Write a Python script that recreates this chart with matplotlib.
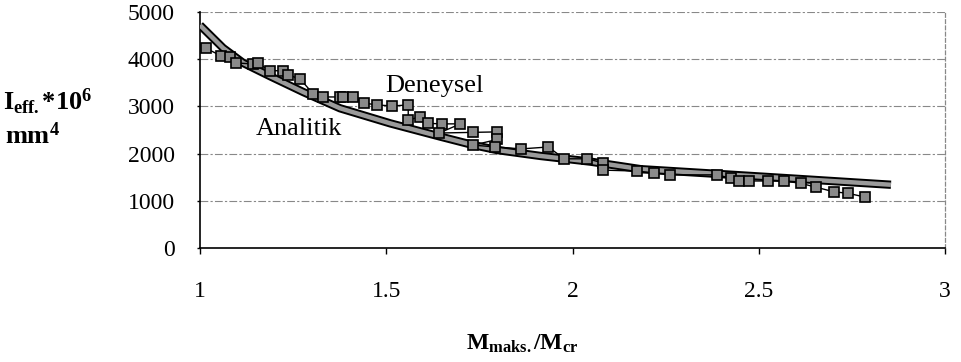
import matplotlib
matplotlib.use("Agg")
import matplotlib.pyplot as plt

plt.rcParams['font.family'] = ['Liberation Serif', 'DejaVu Serif']
plt.rcParams['mathtext.fontset'] = 'custom'
plt.rcParams['mathtext.rm'] = 'Liberation Serif'
plt.rcParams['mathtext.it'] = 'Liberation Serif:italic'
plt.rcParams['mathtext.bf'] = 'Liberation Serif:bold'

# Analitik (analytical) curve
analitik_x = [1.00, 1.062, 1.116, 1.188, 1.277, 1.376, 1.511, 1.645, 1.734, 1.798,
              1.914, 2.048, 2.183, 2.390, 2.594, 2.855]
analitik_y = [4720, 4237, 3920, 3640, 3305, 2960, 2640, 2360, 2180, 2075,
              1950, 1830, 1670, 1570, 1470, 1340]

deneysel_x = [1.016, 1.056, 1.081, 1.097, 1.142, 1.156, 1.188, 1.223, 1.237, 1.269,
              1.304, 1.331, 1.376, 1.384, 1.411, 1.441, 1.476, 1.516, 1.559, 1.559,
              1.591, 1.613, 1.651, 1.699, 1.642, 1.734, 1.798, 1.798, 1.734, 1.793,
              1.863, 1.935, 1.978, 2.040, 2.083, 2.083, 2.172, 2.218, 2.261, 2.387,
              2.425, 2.446, 2.473, 2.524, 2.567, 2.613, 2.653, 2.702, 2.739, 2.785]
deneysel_y = [4230, 4075, 4053, 3920, 3900, 3910, 3756, 3756, 3665, 3580,
              3263, 3200, 3200, 3205, 3195, 3070, 3030, 3010, 3030, 2710,
              2780, 2640, 2630, 2630, 2436, 2450, 2460, 2300, 2180, 2140,
              2100, 2140, 1890, 1890, 1800, 1650, 1630, 1590, 1550, 1550,
              1480, 1420, 1420, 1420, 1420, 1370, 1290, 1190, 1160, 1080]

x_ticks = [1, 1.5, 2, 2.5, 3]
x_tick_labels = ['1', '1.5', '2', '2.5', '3']
y_ticks = [0, 1000, 2000, 3000, 4000, 5000]

W, H = 962, 362
fig = plt.figure(figsize=(W / 100, H / 100), dpi=100)
ax = fig.add_axes([200 / W, 1 - 248 / H, (945 - 200) / W, (248 - 12) / H])

ax.set_xlim(1, 3)
ax.set_ylim(0, 5000)

# gridlines
for yv in y_ticks[1:]:
    ax.axhline(yv, color='#888888', lw=0.8, ls=(0, (7, 2, 2, 2)), zorder=1)

# analytical curve: thick grey band with black outline
ax.plot(analitik_x, analitik_y, color='black', lw=6.0, solid_capstyle='butt', zorder=3)
ax.plot(analitik_x, analitik_y, color='#9a9a9a', lw=3.2, solid_capstyle='butt', zorder=4)

# experimental points
ax.plot(deneysel_x, deneysel_y, color='black', lw=1.0, marker='s', markersize=6.5,
        markerfacecolor='#8a8a8a', markeredgecolor='black', markeredgewidth=1.2, zorder=5)

ax.text(1.629, 3305, 'Deneysel', fontsize=19, ha='center', va='baseline', zorder=6)
ax.text(1.266, 2394, 'Analitik', fontsize=19, ha='center', va='baseline', zorder=6)

ax.set_xticks(x_ticks)
ax.set_xticklabels(x_tick_labels)
ax.set_yticks(y_ticks)
ax.tick_params(axis='x', direction='out', length=4, width=1, pad=20, labelsize=17)
ax.tick_params(axis='y', direction='out', length=2, width=1, pad=16, labelsize=17)

ax.spines['top'].set_visible(False)
ax.spines['right'].set_color('#888888')
ax.spines['right'].set_linestyle((0, (3, 2)))
ax.spines['right'].set_linewidth(0.9)
ax.spines['left'].set_linewidth(1.2)
ax.spines['bottom'].set_linewidth(1.2)

fig.text(3 / W, 1 - 110 / H, r'$\mathbf{I}_{\mathbf{eff.}}\mathbf{*10}^{\mathbf{6}}$',
         fontsize=19, ha='left', va='baseline')
fig.text(5 / W, 1 - 144 / H, r'$\mathbf{mm}^{\mathbf{4}}$',
         fontsize=19, ha='left', va='baseline')
fig.text(522 / W, 1 - 350 / H, r'$\mathbf{M}_{\mathbf{maks.}}\mathbf{/M}_{\mathbf{cr}}$',
         fontsize=17, ha='center', va='baseline')

fig.savefig('out.png', dpi=100)
